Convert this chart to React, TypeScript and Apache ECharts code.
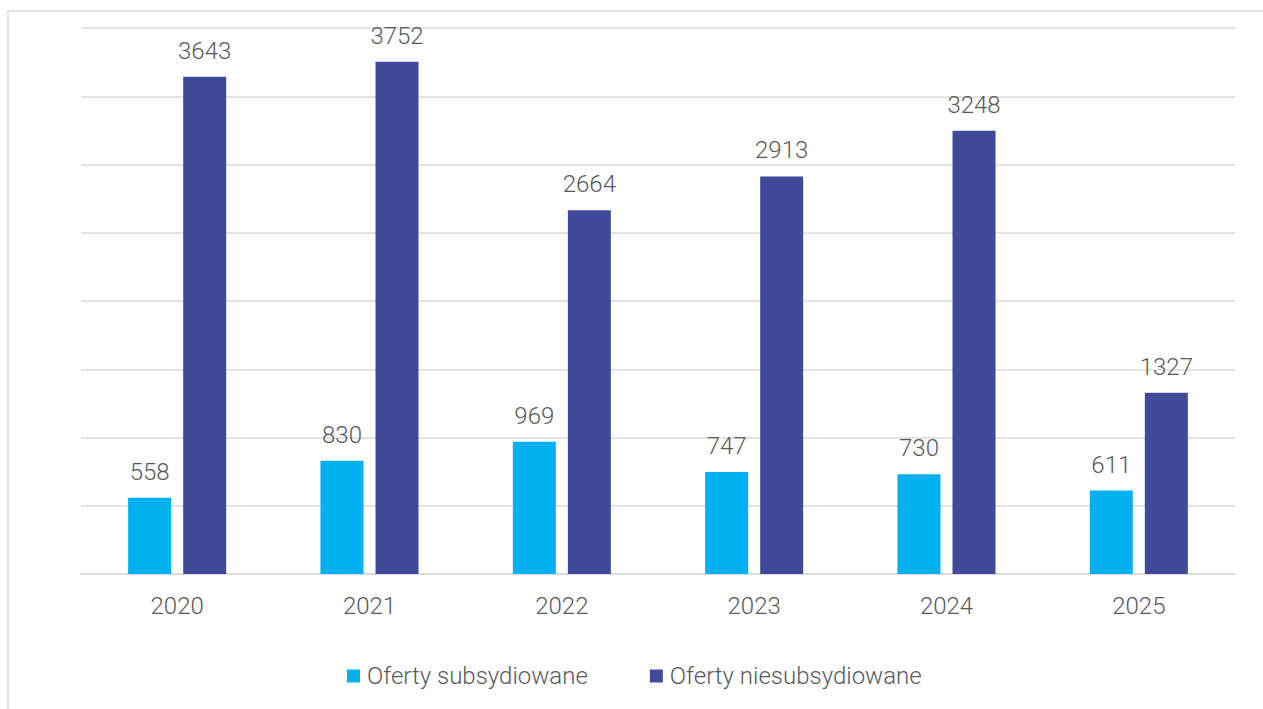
import React, { useEffect, useRef } from "react";
import * as echarts from "echarts";

const categories = ["2020", "2021", "2022", "2023", "2024", "2025"];
const subsidized = [558, 830, 969, 747, 730, 611];
const unsubsidized = [3643, 3752, 2664, 2913, 3248, 1327];
const seriesNames = ["Oferty subsydiowane", "Oferty niesubsydiowane"];

const FONT = "Roboto";
const WEIGHT = 300;
const SIZE = 24;
const TEXT = "#595959";

export default function App() {
  const ref = useRef<HTMLDivElement>(null);
  useEffect(() => {
    const chart = echarts.init(ref.current!, null, { renderer: "svg" });
    chart.setOption({
      animation: false,
      backgroundColor: "#ffffff",
      textStyle: { fontFamily: FONT },
      graphic: [
        {
          type: "rect",
          shape: { x: 8, y: 11, width: 1400, height: 900 },
          style: { fill: "none", stroke: "#d9d9d9", lineWidth: 1.5 },
          silent: true,
          z: -1,
        },
      ],
      grid: { left: 81, right: 28, top: 28, bottom: 135, containLabel: false },
      legend: {
        left: 342,
        top: 659,
        itemWidth: 13,
        itemHeight: 13,
        itemGap: 62,
        icon: "rect",
        textStyle: { color: TEXT, fontSize: SIZE, fontFamily: FONT, fontWeight: WEIGHT, padding: [0, 0, 0, 2] },
        data: seriesNames,
      },
      xAxis: {
        type: "category",
        data: categories,
        axisLine: { lineStyle: { color: "#d9d9d9", width: 1.5 } },
        axisTick: { show: false },
        axisLabel: { color: TEXT, fontSize: SIZE, fontFamily: FONT, fontWeight: WEIGHT, margin: 20 },
      },
      yAxis: {
        type: "value",
        min: 0,
        max: 4000,
        interval: 500,
        axisLabel: { show: false },
        axisLine: { show: false },
        axisTick: { show: false },
        splitLine: { lineStyle: { color: "#d9d9d9", width: 1.5 } },
      },
      series: [
        {
          name: seriesNames[0],
          type: "bar",
          data: subsidized,
          barWidth: 43,
          barGap: "28%",
          itemStyle: { color: "#00B0F0" },
          label: { show: true, position: "top", distance: 14, color: TEXT, fontSize: SIZE, fontFamily: FONT, fontWeight: WEIGHT },
        },
        {
          name: seriesNames[1],
          type: "bar",
          data: unsubsidized,
          barWidth: 43,
          barGap: "28%",
          itemStyle: { color: "#414A98" },
          label: { show: true, position: "top", distance: 14, color: TEXT, fontSize: SIZE, fontFamily: FONT, fontWeight: WEIGHT },
        },
      ],
    });
    return () => chart.dispose();
  }, []);
  return (
    <div style={{ position: "absolute", left: 0, top: 0, width: 1263, height: 709 }}>
      <div ref={ref} style={{ width: 1263, height: 709 }} />
    </div>
  );
}
